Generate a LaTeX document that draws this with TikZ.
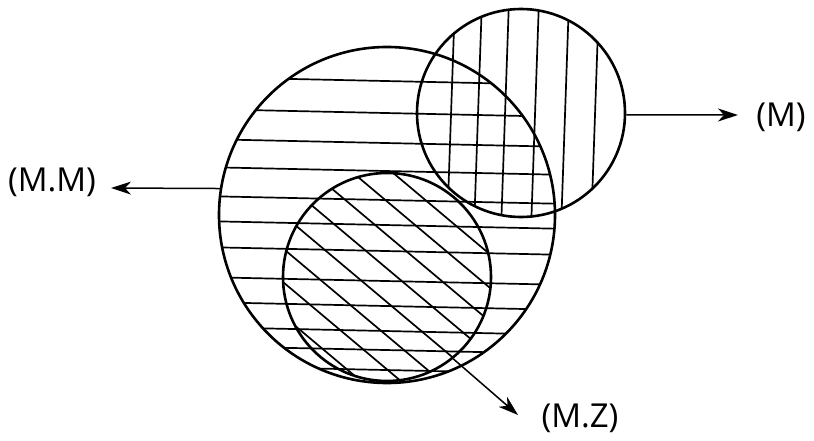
\documentclass[tikz,border=0pt]{standalone}
\usepackage{fontspec}
\setmainfont{Open Sans}
\usetikzlibrary{arrows.meta}
\tikzset{
  ring/.style={circle, draw, line width=2.6pt, inner sep=0pt},
  hatch/.style={line width=1.7pt},
  pointer/.style={line width=1.5pt, -{Stealth[length=20pt,width=13pt,inset=6pt]}},
  lab/.style={font=\fontsize{33}{33}\selectfont, inner sep=0pt}
}
\begin{document}
\begin{tikzpicture}[x=1pt,y=-1pt]
\useasboundingbox (0,0) rectangle (814,441);
\coordinate (cBig) at (387,215);
\coordinate (cSmall) at (521,113);
\coordinate (cLow) at (387,277);
% horizontal hatching of the big circle
\begin{scope}
  \clip (cBig) circle[radius=168pt];
  \foreach \y in {78,110,140,168,197,222,248,278,303,328,347,367}
    \draw[hatch] (200,\y-1) -- (570,\y+7);
\end{scope}
% vertical hatching of the small circle
\begin{scope}
  \clip (cSmall) circle[radius=104pt];
  \foreach \x in {453,480,507,537,567,597}
    \draw[hatch] (\x+2,0) -- (\x-6,230);
\end{scope}
% diagonal hatching of the lower circle
\begin{scope}
  \clip (cLow) circle[radius=104pt];
  \foreach \x in {237,277,317,357,397,437,477,517}
    \draw[hatch] (\x-150,151) -- (\x+150,403);
\end{scope}
% circles
\node[ring, minimum size=336pt] (big) at (cBig) {};
\node[ring, minimum size=208pt] (small) at (cSmall) {};
\node[ring, minimum size=208pt] (low) at (cLow) {};
% labels
\node[lab] (mm) at (52,182) {(M.M)};
\node[lab] (m) at (781,117) {(M)};
\node[lab] (mz) at (580,418) {(M.Z)};
% arrows
\coordinate (tipMM) at (111,188);
\coordinate (tipM) at (738,115);
\coordinate (tipMZ) at (518,415);
\draw[pointer] (big.171) -- (tipMM);
\draw[pointer] (small.-1) -- (tipM);
\draw[pointer] (low.-51) -- (tipMZ);
\end{tikzpicture}
\end{document}
